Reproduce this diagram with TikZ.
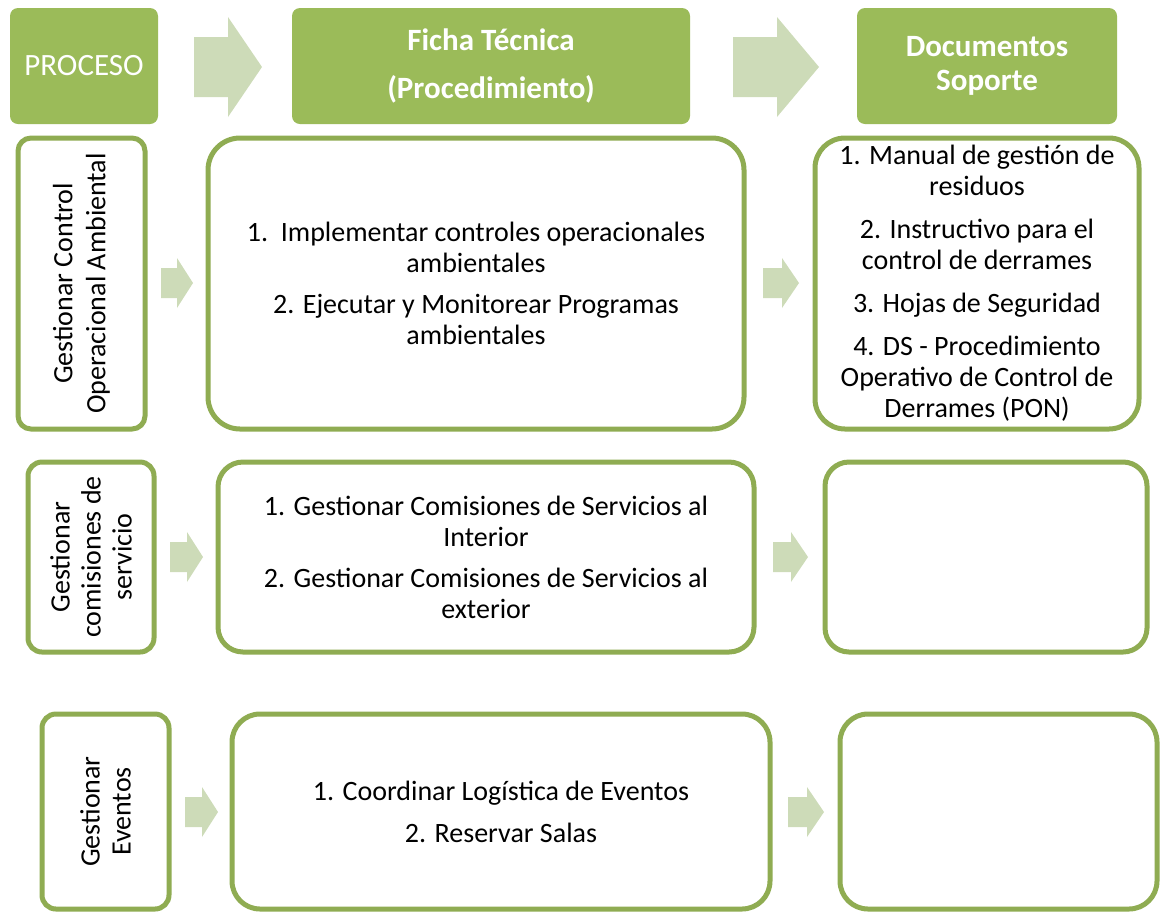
\documentclass[tikz,border=0pt]{standalone}
\usepackage{fontspec}
\setmainfont{Carlito}
\definecolor{hdrgreen}{HTML}{9BBB59}
\definecolor{bordergreen}{HTML}{8FAC52}
\definecolor{arrowgreen}{HTML}{CDDBB8}
\newcommand\bodyfnt{\fontsize{28}{31}\selectfont}
\newcommand\blockarrow[6]{%
  \fill[arrowgreen] (#1,#4-#6) -- (#2,#4-#6) -- (#2,#4-#5) -- (#3,#4) -- (#2,#4+#5) -- (#2,#4+#6) -- (#1,#4+#6) -- cycle;}
\tikzset{
  hdr/.style={fill=hdrgreen, draw=none, rounded corners=8pt, text=white, align=center, inner sep=0pt},
  cell/.style={draw=bordergreen, fill=white, line width=5pt, align=center, inner sep=0pt, font=\bodyfnt},
}
\begin{document}
\begin{tikzpicture}[x=1pt,y=-1pt]
\useasboundingbox (0,0) rectangle (1161,914);
% headers
\node[hdr, minimum width=148pt, minimum height=116pt, font=\fontsize{31}{34}\selectfont] (h1) at (84,66) {PROCESO};
\node[hdr, minimum width=398pt, minimum height=116pt, font=\fontsize{31}{48}\selectfont\bfseries] (h2) at (491,66) {Ficha Técnica\\(Procedimiento)};
\node[hdr, minimum width=260pt, minimum height=116pt, font=\fontsize{31}{34}\selectfont\bfseries] (h3) at (987,66) {Documentos\\Soporte};
\blockarrow{194}{228}{262}{67}{50}{30}
\blockarrow{733}{777}{819}{67}{50}{30}
% row 1
\node[cell, rounded corners=13pt, minimum width=291pt, minimum height=127pt, rotate=90, font=\fontsize{28}{33}\selectfont] (l1) at (81.5,283.5) {Gestionar Control\\Operacional Ambiental};
\node[cell, rounded corners=32pt, minimum width=536pt, minimum height=291pt] (m1) at (476,283.5) {1.\ \ Implementar controles operacionales\\ambientales\\[10pt]2. Ejecutar y Monitorear Programas\\ambientales};
\node[cell, rounded corners=30pt, minimum width=324pt, minimum height=291pt] (r1) at (977,283.5) {1. Manual de gestión de\\residuos\\[12pt]2. Instructivo para el\\control de derrames\\[12pt]3. Hojas de Seguridad\\[12pt]4. DS - Procedimiento\\Operativo de Control de\\Derrames (PON)};
\blockarrow{161}{177}{193}{283}{25}{15}
\blockarrow{763}{782}{799}{283}{25}{15}
% row 2
\node[cell, rounded corners=14pt, minimum width=190pt, minimum height=126pt, rotate=90, font=\fontsize{28}{31}\selectfont] (l2) at (91,557) {Gestionar\\comisiones de\\servicio};
\node[cell, rounded corners=25pt, minimum width=536pt, minimum height=190pt] (m2) at (486,557) {1. Gestionar Comisiones de Servicios al\\Interior\\[10pt]2. Gestionar Comisiones de Servicios al\\exterior};
\node[cell, rounded corners=24pt, minimum width=322pt, minimum height=190pt] (r2) at (986,557) {};
\blockarrow{170}{187}{203}{557}{25}{15}
\blockarrow{773}{791}{808}{557}{25}{15}
% row 3
\node[cell, rounded corners=14pt, minimum width=195pt, minimum height=127pt, rotate=90, font=\fontsize{28}{31}\selectfont] (l3) at (105.5,811.5) {Gestionar\\Eventos};
\node[cell, rounded corners=28pt, minimum width=538pt, minimum height=195pt] (m3) at (501,811.5) {1. Coordinar Logística de Eventos\\[11pt]2. Reservar Salas};
\node[cell, rounded corners=28pt, minimum width=317pt, minimum height=195pt] (r3) at (998.5,811.5) {};
\blockarrow{185}{202}{218}{812}{25}{15}
\blockarrow{788}{807}{824}{812}{25}{15}
\end{tikzpicture}
\end{document}
